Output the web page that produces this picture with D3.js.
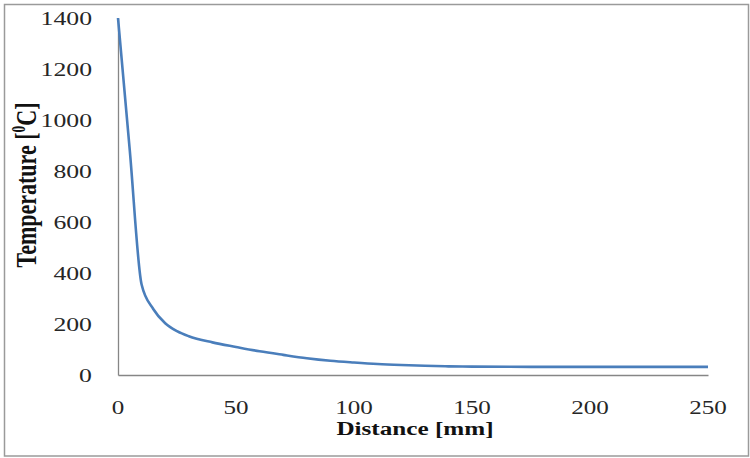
<!DOCTYPE html>
<html>
<head>
<meta charset="utf-8">
<script src="https://cdn.jsdelivr.net/npm/d3@7"></script>
<style>
  html, body { margin: 0; padding: 0; background: #fff; }
  svg { display: block; }
</style>
</head>
<body>
<svg id="chart" width="750" height="458"></svg>
<script>
// Data
const distance = [0, 5, 10, 15, 20, 25, 30, 40, 50, 60, 70, 80, 90, 100, 110, 120, 130, 140, 150, 175, 200, 225, 250];
const temperature = [1400, 880, 355, 258, 203, 172, 152, 128, 110, 93, 79, 66, 56, 49, 43, 39, 36, 34, 33, 32, 32, 32, 32];
const xTicks = [0, 50, 100, 150, 200, 250];
const yTicks = [0, 200, 400, 600, 800, 1000, 1200, 1400];

const svg = d3.select("#chart");
const stretch = 1.32;
const serif = "'Liberation Serif', 'Times New Roman', serif";

// outer frame
svg.append("rect")
  .attr("x", 4.5).attr("y", 4.5).attr("width", 744).attr("height", 451.5)
  .attr("fill", "#fff").attr("stroke", "#9a9a9a").attr("stroke-width", 1.5);

const x = d3.scaleLinear().domain([0, 250]).range([118, 708]);
const y = d3.scaleLinear().domain([0, 1400]).range([375, 18]);

// axes lines (no ticks)
const xAxis = svg.append("g").attr("transform", `translate(0,${y(0)})`)
  .call(d3.axisBottom(x).tickValues(xTicks).tickSize(0).tickFormat(""));
const yAxis = svg.append("g").attr("transform", `translate(${x(0)},0)`)
  .call(d3.axisLeft(y).tickValues(yTicks).tickSize(0).tickFormat(""));
[xAxis, yAxis].forEach(a => {
  a.select(".domain").attr("stroke", "#868686").attr("stroke-width", 1.3);
  a.selectAll("text").remove();
});

// tick labels (reference is horizontally stretched)
svg.append("g").selectAll("g").data(yTicks).join("g")
  .attr("transform", d => `translate(92,${y(d) + 7}) scale(${stretch},1)`)
  .append("text")
  .attr("text-anchor", "end")
  .attr("font-family", serif).attr("font-size", 19.5).attr("fill", "#262626")
  .text(d => d);

svg.append("g").selectAll("g").data(xTicks).join("g")
  .attr("transform", d => `translate(${x(d)},414) scale(${stretch},1)`)
  .append("text")
  .attr("text-anchor", "middle")
  .attr("font-family", serif).attr("font-size", 19).attr("fill", "#262626")
  .text(d => d);

// line
const data = distance.map((d, i) => ({ d, t: temperature[i] }));
svg.append("path")
  .datum(data)
  .attr("fill", "none")
  .attr("stroke", "#4a7ebb")
  .attr("stroke-width", 2.6)
  .attr("stroke-linejoin", "round")
  .attr("d", d3.line().x(p => x(p.d)).y(p => y(p.t)).curve(d3.curveMonotoneX));

// x title
svg.append("g")
  .attr("transform", `translate(415,435) scale(1.36,1)`)
  .append("text")
  .attr("text-anchor", "middle")
  .attr("font-family", serif).attr("font-size", 18.5).attr("font-weight", "bold").attr("fill", "#111")
  .text("Distance [mm]");

// y title
const yt = svg.append("g")
  .attr("transform", `translate(36,185) scale(${stretch},1) rotate(-90)`)
  .append("text")
  .attr("text-anchor", "middle")
  .attr("font-family", serif).attr("font-size", 22).attr("font-weight", "bold").attr("fill", "#111");
yt.append("tspan").text("Temperature [");
yt.append("tspan").attr("font-size", 13.5).attr("dy", -8).text("0");
yt.append("tspan").attr("dy", 8).text("C]");
</script>
</body>
</html>
